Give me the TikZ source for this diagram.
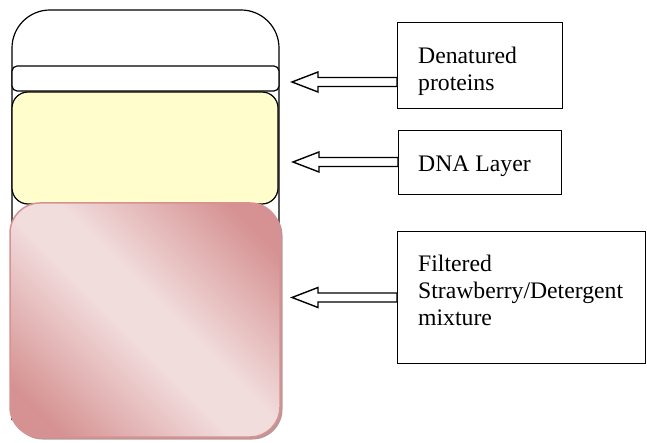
\documentclass[tikz,border=0pt]{standalone}
\usepackage{fontspec}
\setmainfont{Liberation Serif}
\definecolor{pdark}{RGB}{214,146,146}
\definecolor{plight}{RGB}{242,221,221}
\definecolor{pshadowc}{RGB}{190,150,150}
\definecolor{dnay}{RGB}{255,253,204}
\pgfdeclareverticalshading{pinkdiag}{100bp}{color(0bp)=(pdark); color(22bp)=(pdark); color(46bp)=(plight); color(54bp)=(plight); color(78bp)=(pdark); color(100bp)=(pdark)}
\begin{document}
\begin{tikzpicture}[x=1pt,y=-1pt,
  lbl/.style={draw,line width=1pt,anchor=north west,inner sep=0pt,outer sep=0pt},
  txt/.style={anchor=base west,align=left,inner sep=0pt,font=\fontsize{23.7}{27}\selectfont},
  harrow/.style={draw,line width=1.4pt,fill=white,line join=miter},
  tube/.style={draw,line width=1.2pt}]
\useasboundingbox (0,0) rectangle (647,443);
% tube and layers
\draw[tube,rounded corners=38] (12,420) -- (12,10) -- (279,10) -- (279,420);
\draw[tube,fill=white,rounded corners=5] (12,66) rectangle (279,91);
\draw[tube,fill=dnay,rounded corners=16] (12,92) rectangle (278,204);
\fill[pshadowc,rounded corners=30] (12.5,205.5) rectangle (282.5,439.5);
\draw[draw=pdark,line width=1.5pt,shade,shading=pinkdiag,shading angle=-45,rounded corners=30] (10,203) rectangle (280,437);
% label boxes
\node[lbl,minimum width=165pt,minimum height=86pt] (b1) at (397,23) {};
\node[lbl,minimum width=163pt,minimum height=64pt] (b2) at (398,131) {};
\node[lbl,minimum width=248pt,minimum height=131pt] (b3) at (397,232) {};
% texts (base anchor = baseline of last line)
\node[txt] (t1) at (418,91) {Denatured\\proteins};
\node[txt] (t2) at (418,172) {DNA Layer};
\node[txt] (t3) at (418,325) {Filtered\\Strawberry/Detergent\\mixture};
% hollow arrows
\draw[harrow] (b1.west) ++(0,16) ++(0,-4.5) -- ++(-79,0) -- ++(0,-5.5) -- ++(-26,10) -- ++(26,10) -- ++(0,-5.5) -- ++(79,0) -- cycle;
\draw[harrow] (b2.west) ++(0,-1) ++(0,-4.5) -- ++(-79,0) -- ++(0,-5.5) -- ++(-26,10) -- ++(26,10) -- ++(0,-5.5) -- ++(79,0) -- cycle;
\draw[harrow] (b3.west) ++(0,0) ++(0,-4.5) -- ++(-79,0) -- ++(0,-5.5) -- ++(-26,10) -- ++(26,10) -- ++(0,-5.5) -- ++(79,0) -- cycle;
\end{tikzpicture}
\end{document}
